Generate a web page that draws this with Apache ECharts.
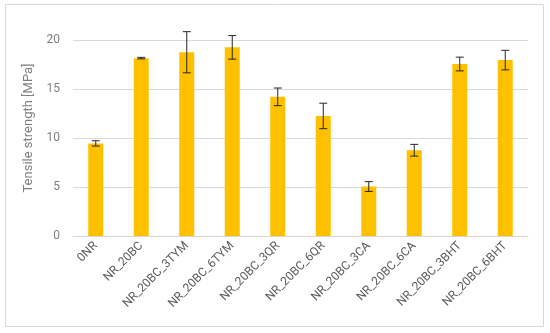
<!DOCTYPE html>
<html>
<head>
<meta charset="utf-8">
<script src="https://cdn.jsdelivr.net/npm/echarts@6/dist/echarts.min.js"></script>
<style>
html,body{margin:0;padding:0;background:#fff;}
#c{width:550px;height:333px;}
</style>
</head>
<body>
<div id="c"></div>
<script>
var categories = ['0NR','NR_20BC','NR_20BC_3TYM','NR_20BC_6TYM','NR_20BC_3QR','NR_20BC_6QR','NR_20BC_3CA','NR_20BC_6CA','NR_20BC_3BHT','NR_20BC_6BHT'];
var values = [9.45, 18.15, 18.75, 19.25, 14.2, 12.25, 5.05, 8.75, 17.55, 17.95];
var errors = [0.27, 0.08, 2.1, 1.2, 0.9, 1.3, 0.5, 0.6, 0.7, 1.0];
var yTicks = [0, 5, 10, 15, 20];

var chart = echarts.init(document.getElementById('c'));
var errData = values.map(function(v, i){ return [i, v - errors[i], v + errors[i]]; });
chart.setOption({
  animation: false,
  graphic: [{
    type: 'rect', shape: {x: 5.5, y: 4.5, width: 538, height: 322},
    style: {fill: 'none', stroke: '#d9d9d9', lineWidth: 1}, silent: true, z: -1
  }],
  grid: {left: 73, right: 22, top: 40, bottom: 97},
  xAxis: {
    type: 'category', data: categories,
    axisLine: {lineStyle: {color: '#d9d9d9'}},
    axisTick: {show: false},
    axisLabel: {rotate: 45, color: '#595959', fontSize: 12, fontFamily: 'Roboto', margin: 8, interval: 0}
  },
  yAxis: {
    type: 'value', min: yTicks[0], max: yTicks[yTicks.length-1], interval: 5,
    name: 'Tensile strength [MPa]', nameLocation: 'middle', nameGap: 37,
    nameTextStyle: {color: '#7f7f7f', fontSize: 13, fontFamily: 'Roboto', padding: [0, 0, 0, 20]},
    axisLine: {show: false}, axisTick: {show: false},
    axisLabel: {color: '#7f7f7f', fontSize: 12, fontFamily: 'Roboto', margin: 13},
    splitLine: {lineStyle: {color: '#d9d9d9'}}
  },
  series: [{
    type: 'bar', data: values, barWidth: 15,
    itemStyle: {color: '#FFC000'}
  }, {
    type: 'custom', data: errData, clip: false, z: 10,
    renderItem: function(params, api){
      var x = api.value(0);
      var lo = api.coord([x, api.value(1)]);
      var hi = api.coord([x, api.value(2)]);
      var hw = 4;
      var st = {stroke: '#262626', lineWidth: 1};
      return {type: 'group', children: [
        {type: 'line', shape: {x1: lo[0], y1: lo[1], x2: hi[0], y2: hi[1]}, style: st},
        {type: 'line', shape: {x1: lo[0]-hw, y1: lo[1], x2: lo[0]+hw, y2: lo[1]}, style: st},
        {type: 'line', shape: {x1: hi[0]-hw, y1: hi[1], x2: hi[0]+hw, y2: hi[1]}, style: st}
      ]};
    }
  }]
});
</script>
</body>
</html>
